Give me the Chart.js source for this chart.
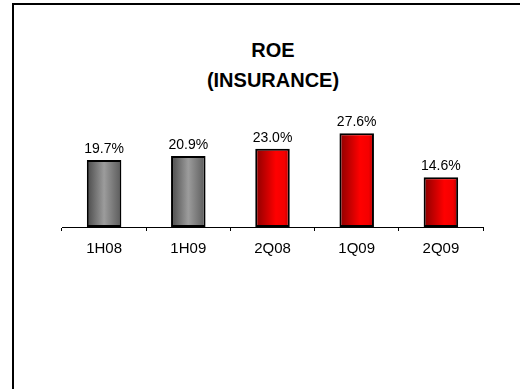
<!DOCTYPE html>
<html>
<head>
<meta charset="utf-8">
<script src="https://cdn.jsdelivr.net/npm/chart.js@4.4.0/dist/chart.umd.min.js"></script>
<style>
    html, body { margin: 0; padding: 0; background: #fff; }
    #wrap { position: relative; width: 520px; height: 389px; overflow: hidden; }
    #frame { position: absolute; left: 12px; top: 3px; width: 520px; height: 400px;
             border-left: 2px solid #000; border-top: 2px solid #000; box-sizing: border-box; }
    .title { position: absolute; left: 0; width: 546px; text-align: center; line-height: 20px;
             font-family: "Liberation Sans", Arial, sans-serif; font-weight: bold; font-size: 20px; color: #000; }
    #chartBox { position: absolute; left: 0; top: 0; width: 520px; height: 389px; }
</style>
</head>
<body>
<div id="wrap">
    <div id="frame"></div>
    <div class="title" style="top:40px;">ROE</div>
    <div class="title" style="top:70px;">(INSURANCE)</div>
    <div id="chartBox"><canvas id="roeChart"></canvas></div>
</div>
<script>
// ========== 数据 ==========
const categories = ['1H08', '1H09', '2Q08', '1Q09', '2Q09'];
const roeValues = [19.7, 20.9, 23.0, 27.6, 14.6];
const barKinds = ['grey', 'grey', 'red', 'red', 'red'];

const FONT = '"Liberation Sans", Arial, sans-serif';

// 横向渐变填充（绘制前按柱子实际位置生成）
const barGradients = {
    id: 'barGradients',
    beforeDatasetsDraw(chart) {
        const ctx = chart.ctx;
        chart.getDatasetMeta(0).data.forEach((bar, i) => {
            const half = bar.width / 2;
            const g = ctx.createLinearGradient(bar.x - half, 0, bar.x + half, 0);
            if (barKinds[i] === 'grey') {
                g.addColorStop(0, '#4a4a4a');
                g.addColorStop(0.5, '#9c9c9c');
                g.addColorStop(1, '#5a5a5a');
            } else {
                g.addColorStop(0, '#8a0000');
                g.addColorStop(0.6, '#ff0000');
                g.addColorStop(0.85, '#f40000');
                g.addColorStop(1, '#b00000');
            }
            bar.options = Object.assign({}, bar.options, {
                backgroundColor: g,
                borderColor: '#000',
                borderWidth: 2
            });
        });
    }
};

// 柱顶数值标签
const valueLabels = {
    id: 'valueLabels',
    afterDatasetsDraw(chart) {
        const ctx = chart.ctx;
        ctx.save();
        ctx.font = '14px ' + FONT;
        ctx.fillStyle = '#000';
        ctx.textAlign = 'center';
        ctx.textBaseline = 'alphabetic';
        chart.getDatasetMeta(0).data.forEach((bar, i) => {
            ctx.fillText(roeValues[i].toFixed(1) + '%', bar.x, bar.y - 7);
        });
        ctx.restore();
    }
};

new Chart(document.getElementById('roeChart'), {
    type: 'bar',
    data: {
        labels: categories,
        datasets: [{
            data: roeValues,
            backgroundColor: c => barKinds[c.dataIndex] === 'grey' ? '#999' : '#f00',
            borderColor: '#000',
            borderWidth: 2,
            borderSkipped: false,
            categoryPercentage: 1,
            barPercentage: 0.41
        }]
    },
    options: {
        responsive: true,
        maintainAspectRatio: false,
        animation: false,
        layout: { padding: { left: 62, right: 37, top: 91, bottom: 132 } },
        scales: {
            x: {
                offset: true,
                afterFit: s => { s.height = 30; },
                grid: { offset: true, drawOnChartArea: false, drawTicks: true, tickLength: 4, color: '#000' },
                border: { display: true, color: '#000', width: 1 },
                ticks: { color: '#000', padding: 9, font: { family: FONT, size: 15 } }
            },
            y: { display: false, min: 0, max: 40 }
        },
        plugins: {
            legend: { display: false },
            tooltip: { enabled: false }
        }
    },
    plugins: [barGradients, valueLabels]
});
</script>
</body>
</html>
